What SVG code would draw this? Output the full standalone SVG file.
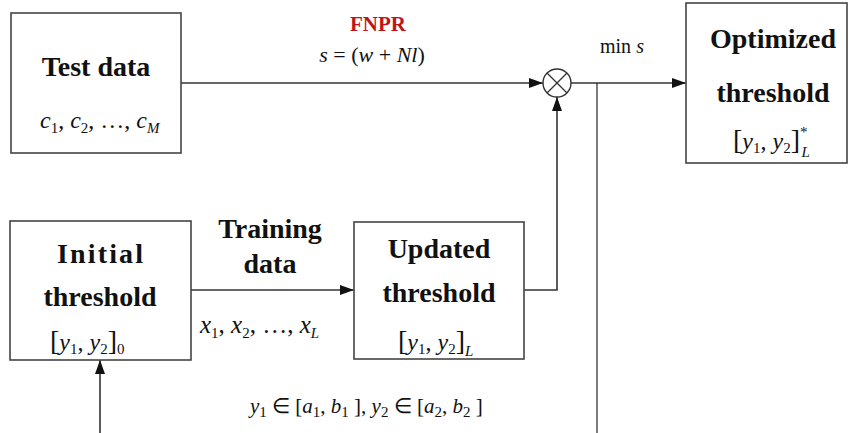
<svg xmlns="http://www.w3.org/2000/svg" width="850" height="433" viewBox="0 0 850 433" font-family="Liberation Serif, Times New Roman, DejaVu Serif, serif">
<defs>
<marker id="ah" markerUnits="userSpaceOnUse" markerWidth="15" markerHeight="11" refX="14" refY="5" orient="auto">
<path d="M0,0 L14,5 L0,10 z" fill="#111"/>
</marker>
<style>
.box{fill:#fff;stroke:#444;stroke-width:1.6}
.lbl{font-weight:bold;font-size:28px;fill:#111;text-anchor:middle}
.fn{font-weight:bold;font-size:21px;fill:#c0141c;text-anchor:middle}
.m{font-size:24px;fill:#111}
.i{font-style:italic}
.sub{font-size:15px}
.br{font-size:28px}
.ln{fill:none;stroke:#333;stroke-width:1.6}
.thin{fill:none;stroke:#111;stroke-width:1.1}
</style>
</defs>
<rect width="850" height="433" fill="#fff"/>

<g id="connectors">
<line class="ln" x1="181" y1="83" x2="543" y2="83" marker-end="url(#ah)"/>
<line class="ln" x1="571" y1="83" x2="686" y2="83" marker-end="url(#ah)"/>
<polyline class="ln" points="524,290 557,290 557,97" marker-end="url(#ah)"/>
<line class="ln" x1="191" y1="290" x2="354" y2="290" marker-end="url(#ah)"/>
<line class="ln" x1="100" y1="433" x2="100" y2="360" marker-end="url(#ah)"/>
<line class="thin" x1="597" y1="83" x2="597" y2="433"/>
</g>

<g id="multiplier">
<circle cx="557" cy="83" r="14" fill="#fff" stroke="#333" stroke-width="1.4"/>
<path d="M547,73 L567,93 M567,73 L547,93" stroke="#333" stroke-width="1.3"/>
</g>

<g id="fnpr-label">
<text class="fn" x="378" y="31" font-family="Liberation Serif, serif">FNPR</text>
<text class="m" x="372" y="62" font-family="Liberation Serif, serif" style="font-size:22px;text-anchor:middle"><tspan class="i">s</tspan> = (<tspan class="i">w</tspan> + <tspan class="i">Nl</tspan>)</text>
</g>

<g id="min-label">
<text class="m" x="600" y="53" font-family="Liberation Serif, serif" style="font-size:20px">min <tspan class="i">s</tspan></text>
</g>

<g id="test-data">
<rect class="box" x="11" y="13" width="170" height="140"/>
<text class="lbl" x="96" y="76" font-family="Liberation Serif, serif">Test data</text>
<text class="m" x="40" y="128" font-family="Liberation Serif, serif"><tspan class="i">c</tspan><tspan class="sub" dy="5">1</tspan><tspan dy="-5">, </tspan><tspan class="i">c</tspan><tspan class="sub" dy="5">2</tspan><tspan dy="-5">, …, </tspan><tspan class="i">c</tspan><tspan class="sub i" dy="5">M</tspan></text>
</g>

<g id="optimized-threshold">
<rect class="box" x="686" y="3" width="161" height="160"/>
<text class="lbl" x="773" y="48" font-family="Liberation Serif, serif">Optimized</text>
<text class="lbl" x="773" y="102" font-family="Liberation Serif, serif">threshold</text>
<text class="m" x="733" y="149" font-family="Liberation Serif, serif"><tspan class="br">[</tspan><tspan class="i">y</tspan><tspan class="sub" dy="4">1</tspan><tspan dy="-4">, </tspan><tspan class="i">y</tspan><tspan class="sub" dy="4">2</tspan><tspan dy="-4" class="br">]</tspan><tspan class="sub" dy="-12">*</tspan><tspan class="sub i" dx="-6" dy="20">L</tspan></text>
</g>

<g id="initial-threshold">
<rect class="box" x="10" y="221" width="181" height="139"/>
<text class="lbl" x="100" y="263" font-family="Liberation Serif, serif" textLength="86" lengthAdjust="spacing">Initial</text>
<text class="lbl" x="100" y="306" font-family="Liberation Serif, serif">threshold</text>
<text class="m" x="50" y="350" font-family="Liberation Serif, serif"><tspan class="br">[</tspan><tspan class="i">y</tspan><tspan class="sub" dy="4">1</tspan><tspan dy="-4">, </tspan><tspan class="i">y</tspan><tspan class="sub" dy="4">2</tspan><tspan dy="-4" class="br">]</tspan><tspan class="sub" dy="4">0</tspan></text>
</g>

<g id="training-data-label">
<text class="lbl" x="270" y="238" font-family="Liberation Serif, serif">Training</text>
<text class="lbl" x="270" y="273" font-family="Liberation Serif, serif">data</text>
<text class="m" x="200" y="333" font-family="Liberation Serif, serif" style="font-size:25px"><tspan class="i">x</tspan><tspan class="sub" dy="5">1</tspan><tspan dy="-5">, </tspan><tspan class="i">x</tspan><tspan class="sub" dy="5">2</tspan><tspan dy="-5">, …, </tspan><tspan class="i">x</tspan><tspan class="sub i" dy="5">L</tspan></text>
</g>

<g id="updated-threshold">
<rect class="box" x="354" y="222" width="170" height="137"/>
<text class="lbl" x="439" y="258" font-family="Liberation Serif, serif">Updated</text>
<text class="lbl" x="439" y="302" font-family="Liberation Serif, serif">threshold</text>
<text class="m" x="398" y="350" font-family="Liberation Serif, serif"><tspan class="br">[</tspan><tspan class="i">y</tspan><tspan class="sub" dy="4">1</tspan><tspan dy="-4">, </tspan><tspan class="i">y</tspan><tspan class="sub" dy="4">2</tspan><tspan dy="-4" class="br">]</tspan><tspan class="sub i" dy="6">L</tspan></text>
</g>

<g id="range-label">
<text class="m" x="250" y="413" font-family="Liberation Serif, serif" style="font-size:21px"><tspan class="i">y</tspan><tspan class="sub" dy="4">1</tspan><tspan dy="-4"> ∈ [</tspan><tspan class="i">a</tspan><tspan class="sub" dy="4">1</tspan><tspan dy="-4">, </tspan><tspan class="i">b</tspan><tspan class="sub" dy="4">1</tspan><tspan dy="-4"> ], </tspan><tspan class="i">y</tspan><tspan class="sub" dy="4">2</tspan><tspan dy="-4"> ∈ [</tspan><tspan class="i">a</tspan><tspan class="sub" dy="4">2</tspan><tspan dy="-4">, </tspan><tspan class="i">b</tspan><tspan class="sub" dy="4">2</tspan><tspan dy="-4"> ]</tspan></text>
</g>
</svg>
